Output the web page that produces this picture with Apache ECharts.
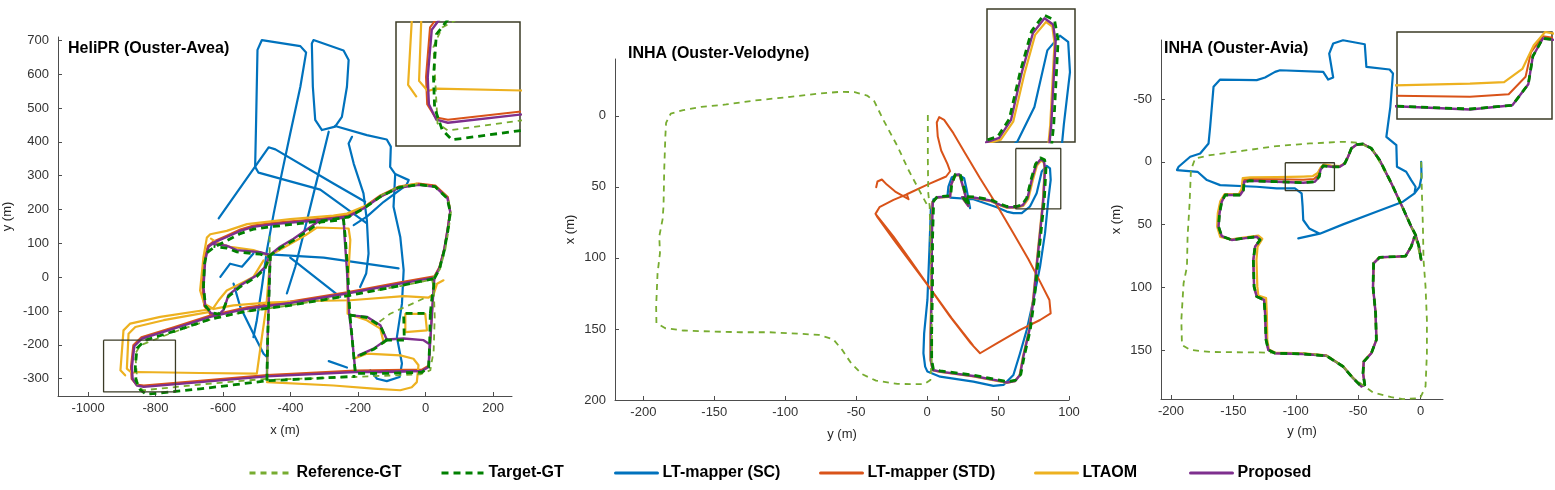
<!DOCTYPE html>
<html>
<head>
<meta charset="utf-8">
<script src="https://cdn.jsdelivr.net/npm/echarts@6/dist/echarts.min.js"></script>
<style>
  html, body { margin: 0; padding: 0; background: #fff; }
  #chart { width: 1555px; height: 490px; }
</style>
</head>
<body>
<div id="chart"></div>
<script>
// ---------- HeliPR (Ouster-Avea) : x / y in metres, each entry is a list of polyline pieces ----------
const heliRefGT = [
  [[-462,121],[-462,65],[-465,-88],[-470,-300],[-668,-317],[-835,-334],[-853,-325],[-860,-226],[-845,-201],[-746,-162],[-638,-125],[-529,-101],[-401,-83],[-233,-54],[-75,-26],[19,-7],[42,23],[58,80],[68,139],[75,193],[66,235],[29,267],[-21,275],[-80,267],[-134,241]],
  [[19,-7],[24,-29],[27,-117],[24,-216],[14,-275],[-16,-287],[-273,-297],[-470,-303]],
  [[-6,-63],[-105,-108],[-144,-137]]
];
const heliTargetGT = [
  [[26,-4],[41,24],[55,78],[66,137],[73,193],[64,233],[28,268],[-21,274],[-80,265],[-134,238],[-184,203],[-228,178],[-312,166],[-371,159],[-450,150],[-510,142],[-549,129],[-589,108],[-628,88],[-648,72],[-655,40],[-658,-29],[-652,-85],[-636,-104],[-613,-109],[-598,-92],[-584,-57],[-549,-28],[-500,2],[-475,27],[-462,63],[-431,86],[-391,109],[-352,135],[-312,163],[-243,170],[-238,119],[-231,21],[-224,-112],[-174,-119],[-134,-144],[-115,-186],[-63,-186],[-65,-107],[14,-107],[12,-200],[9,-267],[-11,-281],[-115,-284],[-208,-284],[-218,-177],[-224,-112]],
  [[-115,-186],[-154,-213],[-199,-233]],
  [[14,-107],[19,-60],[24,-29],[26,-4],[-75,-25],[-233,-55],[-401,-83],[-529,-100],[-638,-124],[-746,-160],[-830,-186],[-855,-210],[-860,-265],[-858,-305],[-845,-333],[-828,-346],[-668,-330],[-470,-306],[-208,-293]],
  [[-470,-306],[-468,-186],[-465,-88],[-462,11],[-460,60],[-490,68],[-559,75],[-589,86],[-628,91]]
];
const heliSC = [
  [[-174,159],[-312,259],[-495,309],[-505,326],[-502,465],[-498,672],[-485,701],[-371,683],[-354,664],[-371,563],[-401,425],[-426,307],[-450,188],[-470,80],[-485,-29],[-500,-127],[-510,-177]],
  [[-332,701],[-243,670],[-228,642],[-233,563],[-248,474],[-268,445],[-307,435],[-327,465],[-334,563],[-337,691],[-332,701]],
  [[-287,430],[-322,287],[-356,149],[-386,31],[-411,-48]],
  [[-268,447],[-174,420],[-115,407],[-103,386],[-105,326],[-90,305],[-50,287],[-57,272],[-124,223],[-174,179],[-213,154]],
  [[-218,415],[-228,395],[-213,336],[-184,248],[-174,169],[-169,70],[-176,11],[-194,-29]],
  [[-90,305],[-95,208],[-75,119],[-65,21],[-70,-78],[-85,-177],[-70,-255],[-77,-295],[-115,-307],[-144,-300],[-164,-275]],
  [[-613,174],[-465,384],[-445,378],[-273,277],[-179,223]],
  [[-500,70],[-302,58],[-80,26]],
  [[-401,58],[-253,-58]],
  [[-608,1],[-579,40],[-544,31],[-510,70]],
  [[-569,-19],[-549,-88],[-510,-167],[-480,-226],[-470,-236]],
  [[-287,-248],[-233,-267]]
];
const heliSTD = [
  [[26,3],[41,30],[55,84],[65,143],[73,197],[66,237],[29,271],[-21,277],[-80,268],[-134,242],[-184,207],[-228,184],[-312,173],[-371,168],[-450,161],[-510,153],[-549,141],[-589,123],[-628,106],[-645,93],[-656,52],[-661,-29],[-656,-85],[-638,-109],[-613,-114],[-638,-113],[-746,-148],[-842,-177],[-866,-201],[-873,-265],[-871,-300],[-857,-317],[-835,-320],[-668,-306],[-470,-289],[-208,-276],[-11,-273],[9,-261],[14,-186],[19,-107],[24,-29],[26,3],[-75,-15],[-233,-44],[-401,-72],[-529,-89],[-638,-113]]
];
const heliLTAOM = [
  [[53,-9],[34,-19],[24,-50],[9,-60],[-65,-56],[-223,-68],[-371,-71],[-470,-75],[-569,-83],[-608,-90],[-628,-94],[-656,-78],[-668,-39],[-658,60],[-648,117],[-638,127],[-589,137],[-529,157],[-401,172],[-273,182],[-233,188],[-174,213],[-124,243],[-75,267],[-26,277]],
  [[-643,-103],[-776,-127],[-860,-147],[-880,-167],[-885,-270],[-870,-283],[-855,-280],[-668,-283],[-500,-285],[-485,-177],[-472,-88],[-464,11],[-460,60],[-480,70],[-510,80],[-579,90],[-618,102],[-636,114]],
  [[-480,50],[-510,1],[-549,-19],[-589,-39],[-613,-68],[-628,-90],[-648,-96],[-786,-117],[-875,-137],[-895,-157],[-904,-275],[-890,-290]],
  [[-460,65],[-356,124],[-322,147],[-228,144],[-223,110],[-231,-29],[-231,-108],[-174,-127],[-134,-152],[-124,-194]],
  [[-60,-108],[-1,-108],[4,-157],[-60,-162],[-60,-108]],
  [[-213,-241],[-174,-226],[-75,-231],[-36,-241],[-21,-260],[-26,-310],[-41,-325],[-75,-334],[-154,-329],[-273,-320],[-470,-310]]
];
const heliProposed = [
  [[26,-1],[41,26],[55,80],[65,139],[73,193],[65,233],[29,267],[-21,273],[-80,264],[-134,238],[-184,203],[-228,180],[-312,169],[-371,164],[-450,157],[-510,149],[-549,137],[-589,119],[-628,102],[-643,90],[-653,50],[-658,-29],[-653,-83],[-636,-106],[-613,-111],[-598,-96],[-584,-53],[-549,-24],[-500,6],[-475,31],[-462,65],[-431,90],[-391,114],[-352,141],[-312,169],[-243,176],[-240,119],[-233,21],[-226,-112],[-174,-117],[-134,-142],[-115,-184],[-154,-211],[-199,-231],[-154,-211],[-115,-184],[-65,-181],[-6,-186],[12,-198],[9,-265],[-11,-277],[-115,-280],[-208,-280],[-218,-177],[-226,-112],[-218,-177],[-208,-280],[-11,-277],[9,-265],[14,-186],[19,-107],[24,-29],[26,-1],[-75,-19],[-233,-48],[-401,-76],[-529,-93],[-638,-117],[-746,-152],[-840,-181],[-863,-204],[-870,-265],[-868,-300],[-855,-320],[-835,-324],[-668,-310],[-470,-293],[-208,-280],[-470,-293],[-468,-186],[-465,-88],[-462,11],[-460,65],[-490,74],[-559,80],[-589,93],[-628,98]]
];

// ---------- INHA (Ouster-Velodyne) : horizontal = y (m), vertical = x (m) ----------
const veloRefGT = [
  [[0.5,-0.5],[0.5,30.8],[0.8,54.3],[1.8,63.8],[2.5,96.6],[3.0,131.8],[3.5,167.1],[2.3,185.9],[-2.0,188.9],[-20.9,188.7],[-36.0,186.4],[-46.1,181.7],[-53.6,174.1],[-59.9,164.7],[-66.2,157.2],[-76.3,154.2],[-96.4,153.0],[-111.5,152.3],[-131.6,152.3],[-151.8,151.8],[-171.9,151.1],[-184.5,149.5],[-190.8,145.9],[-191.0,134.2],[-190.0,110.7],[-188.3,96.6],[-188.8,84.8],[-186.5,73.1],[-185.8,63.7],[-185.3,37.8],[-184.5,14.3],[-184.0,4.9],[-180.7,-1.6],[-171.9,-4.0],[-159.3,-6.3],[-141.7,-8.0],[-121.6,-10.8],[-96.4,-13.4],[-76.3,-15.7],[-61.2,-16.9],[-51.1,-16.7],[-42.3,-14.3],[-37.3,-10.3],[-31.0,2.6],[-20.9,21.4],[-13.3,37.8],[-5.8,51.9],[0.5,63.7]]
];
const veloTargetGT = [
  [[3.8,120],[3.8,87],[4.6,60],[7.2,56.8],[16.6,56.3],[17.3,48.4],[20,41],[23.2,40.8],[25.1,47.2],[28,57.8],[29.6,63.2],[25,56.9],[33,57],[44.8,59],[51.6,62],[56.3,63.8],[63,63.8],[67,62.5],[70.2,57.8],[73.3,44.8],[76.4,34],[79.8,29.6],[82.8,31],[83.8,36.4],[82.6,59],[80.2,82.4],[77.8,106],[75.5,129.4],[72.7,150.6],[68.4,169.4],[66,182],[62.4,186],[56.3,187.2],[53.8,186.6],[32.6,182.5],[9.2,179.5],[4.4,178.4],[3.2,171.6],[3.2,153],[3.8,120]]
];
const veloSC = [
  [[30.3,65.0],[27.9,52.1],[26.1,43.9],[22.1,41.5],[17.4,43.2],[15.0,49.8],[14.3,56.8],[9.2,57.3],[4.5,58.7],[2.6,66.2],[1.6,94.4],[0.2,129.6],[-2.1,153.1],[-2.6,167.1],[-1.4,176.5],[0.2,180.0],[9.2,183.6],[32.6,187.1],[46.7,190.1],[53.8,189.4],[60.8,182.4],[65.5,167.1],[70.2,150.7],[74.9,129.6],[79.6,106.1],[83.1,82.6],[85.4,59.2],[87.1,45.1],[86.6,36.9],[84.3,35.2],[80.8,39.2],[77.2,54.5],[72.5,63.8],[66.7,68.5],[60.8,68.5],[56.1,67.4],[49.1,64.3],[32.6,58.7],[16.2,57.5]]
];
const veloSTD = [
  [[-35.9,50.2],[-35.0,46.2],[-31.9,44.8],[-28.4,48.4],[-22.5,53.3],[-13.1,58.7],[-14.3,55.2],[-0.2,48.6],[13.4,42.7],[16.2,39.0],[14.3,33.8],[9.9,24.4],[7.5,14.6],[6.8,4.7],[8.5,0.9],[12.0,2.8],[18.5,12.2],[26.8,26.3],[37.3,43.9],[49.1,62.7],[60.8,82.6],[71.4,100.9],[79.6,116.7],[86.2,129.6],[87.1,139.0],[79.6,143.7],[65.5,150.7],[49.1,160.1],[37.3,167.1],[30.8,160.1],[16.2,141.3],[2.1,121.4],[-12.0,101.4],[-23.7,85.0],[-32.6,73.7],[-36.4,69.0],[-33.6,64.3],[-23.7,59.2],[-14.8,55.4],[-23.7,59.2],[-33.6,64.3],[-36.4,69.0],[-35.0,71.4],[-23.7,86.9],[-10.8,104.2],[3.3,123.0],[17.4,142.5],[32.2,161.3]]
];
const veloLTAOM = [
  [[3.0,120],[3.0,87],[3.7,60.6],[6.8,57.6],[16.2,57.1],[16.9,49],[19.7,42],[22.8,41.8],[24.6,47.8],[27.5,58.3],[29.1,63.6],[24.6,57.6],[32.6,57.8],[44.4,60],[51.4,63],[56.1,64.6],[63.1,64.6],[67.8,63.4],[71.3,58.5],[74.4,45.6],[77.4,35],[80.4,31.5],[82.2,32.8],[82.8,37.2],[81.6,59.4],[79.3,82.8],[76.9,106.3],[74.6,129.8],[71.8,150.9],[67.5,169.7],[65.2,182.6],[61.8,186.8],[56.1,188],[53.8,187.4],[32.6,183.4],[9.2,180.3],[4,179.2],[2.3,171.8],[2.3,153],[3.0,120]]
];
const veloProposed = [
  [[3.3,120.2],[3.3,87.3],[4.0,60.3],[6.8,57.3],[16.2,56.8],[16.9,48.6],[19.7,41.5],[22.8,41.3],[24.6,47.4],[27.5,58.0],[29.1,63.4],[24.6,57.3],[32.6,57.5],[44.4,59.6],[51.4,62.7],[56.1,64.3],[63.1,64.3],[67.4,62.9],[70.7,58.0],[73.7,45.1],[76.8,34.5],[80.0,30.5],[82.4,32.2],[83.1,36.9],[81.9,59.2],[79.6,82.6],[77.2,106.1],[74.9,129.6],[72.1,150.7],[67.8,169.5],[65.5,182.4],[62.0,186.6],[56.1,187.8],[53.8,187.1],[32.6,183.1],[9.2,180.0],[4.0,178.9],[2.6,171.8],[2.6,153.1],[3.3,120.2]]
];

// ---------- INHA (Ouster-Avia) : horizontal = y (m), vertical = x (m) ----------
const aviaRefGT = [
  [[0.5,0],[1.1,25.2],[1.9,51.7],[2.4,78.2],[4.0,99.5],[5.1,126.0],[5.1,152.5],[4.0,179.0],[-0.3,188.3],[-14.1,189.1],[-23.4,187.5],[-38.1,183.8],[-44.7,179.0],[-54.1,172.4],[-62.1,163.1],[-75.4,154.6],[-94.0,152.5],[-123.3,152.0],[-168.6,151.5],[-184.6,149.9],[-191.2,145.9],[-191.7,126.0],[-189.9,96.8],[-187.2,83.6],[-186.7,59.7],[-185.1,33.2],[-184.0,6.6],[-180.6,-2.7],[-168.6,-5.3],[-141.9,-8.8],[-115.3,-12.5],[-88.7,-14.6],[-62.1,-15.9],[-48.7,-15.1],[-38.1,-9.3],[-24.8,14.6],[-14.1,37.1],[-4.8,57.0],[0.5,78.2]]
];
const aviaTargetGT = [
  [[0.5,78.0],[-1.3,67.4],[-4.0,58.2],[-7.5,51.5],[-14.1,37.0],[-23.4,17.0],[-32.8,-1.4],[-39.4,-10.7],[-46.1,-14.2],[-51.4,-13.6],[-55.4,-10.7],[-58.1,-4.1],[-60.7,1.2],[-64.7,4.0],[-71.4,4.0],[-78.0,3.2],[-80.2,6.6],[-81.2,11.9],[-84.7,15.9],[-94.0,16.6],[-115.3,15.9],[-136.6,15.1],[-141.4,15.9],[-141.9,22.5],[-144.6,26.5],[-156.6,26.5],[-159.3,31.8],[-161.1,41.1],[-161.9,51.7],[-159.3,59.2],[-151.3,62.3],[-141.9,61.0],[-131.3,59.7],[-128.6,62.3],[-132.6,67.6],[-134.0,78.2],[-133.4,99.5],[-131.3,107.4],[-125.4,110.1],[-124.6,120.7],[-123.8,141.9],[-122.0,149.9],[-116.6,152.5],[-94.0,153.1],[-75.4,154.6],[-62.1,163.1],[-54.1,172.4],[-47.4,179.0],[-44.7,177.7],[-46.1,168.4],[-45.5,159.2],[-39.4,152.5],[-35.4,141.9],[-36.0,120.7],[-38.1,99.5],[-37.6,80.9],[-32.8,76.1],[-19.4,75.6],[-12.0,75.1],[-7.5,67.6],[-4.8,59.7]]
];
const aviaSC = [
  [[0.5,0],[0.8,11.9],[-0.8,19.9],[-4.8,25.2],[-14.1,31.8],[-35.4,39.8],[-62.1,49.9],[-80.7,57.3],[-98.0,61.0],[-80.7,57.3],[-89.2,53.1],[-94.0,46.4],[-94.5,35.8],[-95.3,25.2],[-100.7,21.2],[-115.3,21.2],[-131.3,19.9],[-160.6,18.6],[-171.2,14.6],[-178.7,8.0],[-195.2,6.6],[-193.9,4.0],[-184.6,-4.0],[-176.6,-6.6],[-169.9,-14.6],[-168.6,-27.9],[-165.9,-59.7],[-160.6,-65.5],[-131.3,-65.0],[-124.6,-67.1],[-116.6,-71.6],[-112.6,-72.9],[-78.0,-71.6],[-74.0,-65.5],[-70.0,-67.1],[-73.2,-86.2],[-70.0,-94.2],[-62.1,-96.8],[-44.7,-93.6],[-43.4,-75.6],[-24.8,-73.5],[-22.1,-70.3],[-24.2,-43.8],[-27.4,-19.9],[-19.4,-13.3],[-18.9,4.0],[-11.5,8.0],[-7.5,14.6],[-4.0,19.9],[-4.8,25.2]]
];
const aviaSTD = [
  [[0.5,78.2],[-1.3,67.6],[-4.0,58.4],[-7.5,51.7],[-14.1,37.1],[-23.4,17.2],[-32.8,-1.3],[-39.4,-10.6],[-46.1,-14.1],[-51.4,-13.5],[-55.4,-10.6],[-58.1,-4.0],[-60.7,1.3],[-64.7,3.8],[-71.4,3.6],[-78.0,2.8],[-80.6,5.8],[-81.8,10.5],[-85.5,13.8],[-94.0,14.3],[-115.3,14.0],[-136.6,13.8],[-141.8,14.5],[-142.5,22.3],[-144.8,26.2],[-156.8,26.2],[-159.6,31.6],[-161.4,41.1],[-162.2,51.7],[-159.5,59.3],[-151.3,62.3],[-141.9,61.0],[-131.3,59.7],[-128.6,62.3],[-132.6,67.6],[-134.0,78.2],[-133.4,99.5],[-131.3,107.4],[-125.4,110.1],[-124.6,120.7],[-123.8,141.9],[-122.0,149.9],[-116.6,152.5],[-94.0,153.1],[-75.4,154.6],[-62.1,163.1],[-54.1,172.4],[-47.4,179.0],[-44.7,177.7],[-46.1,168.4],[-45.5,159.2],[-39.4,152.5],[-35.4,141.9],[-36.0,120.7],[-38.1,99.5],[-37.6,80.9],[-32.8,76.1],[-19.4,75.6],[-12.0,75.1],[-7.5,67.6],[-4.8,59.7]]
];
const aviaLTAOM = [
  [[0.5,78.2],[-1.3,67.6],[-4.0,58.4],[-7.5,51.7],[-14.1,37.1],[-23.4,17.2],[-32.8,-1.3],[-39.4,-10.6],[-46.1,-14.1],[-51.4,-13.5],[-55.4,-10.6],[-58.1,-4.0],[-60.7,1.3],[-64.7,3.4],[-71.4,3.0],[-77.5,2.0],[-80.0,4.5],[-82.5,9.0],[-86.5,11.5],[-94.0,11.8],[-115.3,12.2],[-136.6,12.5],[-142.5,13.0],[-143.5,22.0],[-145.5,25.5],[-157.0,25.8],[-160.5,31.5],[-162.5,41.0],[-163.0,51.7],[-160.5,59.8],[-151.3,61.8],[-141.9,60.4],[-130.0,58.8],[-126.8,61.5],[-130.6,67.6],[-131.5,78.2],[-130.8,99.5],[-130.0,106.5],[-123.8,108.5],[-123.2,120.7],[-122.8,141.9],[-121.5,149.5],[-116.6,152.0],[-94.0,152.6],[-75.4,154.2],[-62.1,162.8],[-54.1,172.0],[-47.4,178.6],[-44.7,177.3],[-46.1,168.0],[-45.5,159.0],[-39.4,152.2],[-35.4,141.9],[-36.0,120.7],[-38.1,99.5],[-37.6,80.9],[-32.8,76.1],[-19.4,75.6],[-12.0,75.1],[-7.5,67.6],[-4.8,59.7]]
];
const aviaProposed = [
  [[0.5,78.2],[-1.3,67.6],[-4.0,58.4],[-7.5,51.7],[-14.1,37.1],[-23.4,17.2],[-32.8,-1.3],[-39.4,-10.6],[-46.1,-14.1],[-51.4,-13.5],[-55.4,-10.6],[-58.1,-4.0],[-60.7,1.3],[-64.7,4.0],[-71.4,4.0],[-78.0,3.2],[-80.2,6.6],[-81.2,11.9],[-84.7,15.9],[-94.0,16.7],[-115.3,15.9],[-136.6,15.1],[-141.4,15.9],[-141.9,22.5],[-144.6,26.5],[-156.6,26.5],[-159.3,31.8],[-161.1,41.1],[-161.9,51.7],[-159.3,59.2],[-151.3,62.3],[-141.9,61.0],[-131.3,59.7],[-128.6,62.3],[-132.6,67.6],[-134.0,78.2],[-133.4,99.5],[-131.3,107.4],[-125.4,110.1],[-124.6,120.7],[-123.8,141.9],[-122.0,149.9],[-116.6,152.5],[-94.0,153.1],[-75.4,154.6],[-62.1,163.1],[-54.1,172.4],[-47.4,179.0],[-44.7,177.7],[-46.1,168.4],[-45.5,159.2],[-39.4,152.5],[-35.4,141.9],[-36.0,120.7],[-38.1,99.5],[-37.6,80.9],[-32.8,76.1],[-19.4,75.6],[-12.0,75.1],[-7.5,67.6],[-4.8,59.7]]
];

// axis ticks
const heliXTicks = [-1000, -800, -600, -400, -200, 0, 200];
const heliYTicks = [-300, -200, -100, 0, 100, 200, 300, 400, 500, 600, 700];
const veloXTicks = [-200, -150, -100, -50, 0, 50, 100];
const veloYTicks = [0, 50, 100, 150, 200];
const aviaXTicks = [-200, -150, -100, -50, 0];
const aviaYTicks = [-50, 0, 50, 100, 150];

const methodNames = ['Reference-GT', 'Target-GT', 'LT-mapper (SC)', 'LT-mapper (STD)', 'LTAOM', 'Proposed'];

// ---------- layout ----------
const lineStyles = {
  'Reference-GT':    { color: '#77AC30', width: 1.8, type: [6, 5] },
  'Target-GT':       { color: '#008000', width: 2.8, type: [7, 5] },
  'LT-mapper (SC)':  { color: '#0072BD', width: 2.2 },
  'LT-mapper (STD)': { color: '#D95319', width: 2 },
  'LTAOM':           { color: '#EDB120', width: 2.2 },
  'Proposed':        { color: '#7E2F8E', width: 2.4 }
};
const drawOrder = ['LT-mapper (SC)', 'LT-mapper (STD)', 'LTAOM', 'Proposed', 'Reference-GT', 'Target-GT'];

const plots = [
  {
    title: 'HeliPR (Ouster-Avea)', titlePos: [68, 40],
    grid: { left: 58, top: 37, width: 454, height: 359 },
    inset: { left: 396, top: 22, width: 124, height: 124 },
    x: [-1089, 256], y: [-351, 710], inverse: false,
    xTicks: heliXTicks, yTicks: heliYTicks, xName: 'x (m)', yName: 'y (m)', xGap: 28, yGap: 44,
    box: [[-954, -186], [-741, -339]], view: { x: [-925, -710], y: [-354, -194] },
    lines: { 'Reference-GT': heliRefGT, 'Target-GT': heliTargetGT, 'LT-mapper (SC)': heliSC,
             'LT-mapper (STD)': heliSTD, 'LTAOM': heliLTAOM, 'Proposed': heliProposed }
  },
  {
    title: 'INHA (Ouster-Velodyne)', titlePos: [628, 45],
    grid: { left: 615, top: 59, width: 454, height: 341 },
    inset: { left: 987, top: 9, width: 88, height: 133 },
    x: [-220, 100], y: [-40, 200], inverse: true,
    xTicks: veloXTicks, yTicks: veloYTicks, xName: 'y (m)', yName: 'x (m)', xGap: 28, yGap: 38,
    box: [[62.5, 23], [94.2, 65.5]], view: { x: [64, 88.5], y: [28, 64] },
    lines: { 'Reference-GT': veloRefGT, 'Target-GT': veloTargetGT, 'LT-mapper (SC)': veloSC,
             'LT-mapper (STD)': veloSTD, 'LTAOM': veloLTAOM, 'Proposed': veloProposed }
  },
  {
    title: 'INHA (Ouster-Avia)', titlePos: [1164, 40],
    grid: { left: 1161, top: 40, width: 282, height: 359 },
    inset: { left: 1397, top: 32, width: 155, height: 87 },
    x: [-208, 18], y: [-97, 189], inverse: true,
    xTicks: aviaXTicks, yTicks: aviaYTicks, xName: 'y (m)', yName: 'x (m)', xGap: 26, yGap: 38,
    box: [[-108.4, 0.8], [-69, 23]], view: { x: [-110, -76], y: [2, 18.5] },
    lines: { 'Reference-GT': aviaRefGT, 'Target-GT': aviaTargetGT, 'LT-mapper (SC)': aviaSC,
             'LT-mapper (STD)': aviaSTD, 'LTAOM': aviaLTAOM, 'Proposed': aviaProposed }
  }
];

const FONT = 'Liberation Sans, Arial, Helvetica, sans-serif';
const AXIS_COLOR = '#4d4d4d';
const FRAME_COLOR = '#3b3b26';
const plain = function (v) { return String(v); };

let grids = [], xAxes = [], yAxes = [], series = [], titles = [];

plots.forEach(function (p, i) {
  grids.push(Object.assign({ containLabel: false }, p.grid));
  xAxes.push({
    gridIndex: i, type: 'value', min: p.x[0], max: p.x[1],
    name: p.xName, nameLocation: 'middle', nameGap: p.xGap,
    nameTextStyle: { fontSize: 13, color: '#262626', fontFamily: FONT },
    axisLine: { show: true, onZero: false, lineStyle: { color: AXIS_COLOR, width: 1 } },
    axisTick: { show: true, inside: true, length: 4, customValues: p.xTicks, lineStyle: { color: AXIS_COLOR } },
    axisLabel: { customValues: p.xTicks, formatter: plain, fontSize: 13, color: '#333', fontFamily: FONT, margin: 6 },
    splitLine: { show: false }
  });
  yAxes.push({
    gridIndex: i, type: 'value', min: p.y[0], max: p.y[1], inverse: p.inverse,
    name: p.yName, nameLocation: 'middle', nameGap: p.yGap, nameRotate: 90,
    nameTextStyle: { fontSize: 13, color: '#262626', fontFamily: FONT },
    axisLine: { show: true, onZero: false, lineStyle: { color: AXIS_COLOR, width: 1 } },
    axisTick: { show: true, inside: true, length: 4, customValues: p.yTicks, lineStyle: { color: AXIS_COLOR } },
    axisLabel: { customValues: p.yTicks, formatter: plain, fontSize: 13, color: '#333', fontFamily: FONT, margin: 9 },
    splitLine: { show: false }
  });
  titles.push({
    text: p.title, left: p.titlePos[0], top: p.titlePos[1], padding: 0,
    textStyle: { fontSize: 16, fontWeight: 'bold', color: '#000', fontFamily: FONT, lineHeight: 18 }
  });
});

// inset grids (indices 3..5)
plots.forEach(function (p, i) {
  const gi = 3 + i;
  grids.push(Object.assign({ show: true, borderColor: FRAME_COLOR, borderWidth: 1.5, backgroundColor: '#fff' }, p.inset));
  xAxes.push({ gridIndex: gi, type: 'value', min: p.view.x[0], max: p.view.x[1], show: false, splitLine: { show: false } });
  yAxes.push({ gridIndex: gi, type: 'value', min: p.view.y[0], max: p.view.y[1], inverse: p.inverse, show: false, splitLine: { show: false } });
});

plots.forEach(function (p, i) {
  drawOrder.forEach(function (name) {
    const st = lineStyles[name];
    p.lines[name].forEach(function (piece) {
      [i, 3 + i].forEach(function (gi) {
        series.push({
          name: name, type: 'line', xAxisIndex: gi, yAxisIndex: gi,
          data: piece, symbol: 'none', silent: true, clip: true, animation: false,
          itemStyle: { color: st.color },
          lineStyle: { color: st.color, width: st.width, type: st.type || 'solid',
                       cap: st.type ? 'butt' : 'round', join: 'round' }
        });
      });
    });
  });
  // zoom-region frame in the main axes
  const b = p.box;
  series.push({
    type: 'line', xAxisIndex: i, yAxisIndex: i, symbol: 'none', silent: true, animation: false,
    data: [[b[0][0], b[0][1]], [b[1][0], b[0][1]], [b[1][0], b[1][1]], [b[0][0], b[1][1]], [b[0][0], b[0][1]]],
    lineStyle: { color: FRAME_COLOR, width: 1.3 }, z: 5
  });
});

const legendLeft = [248, 440, 614, 819, 1034, 1189];
const legends = methodNames.map(function (n, k) {
  return {
    data: [n], left: legendLeft[k], top: 465, padding: 0, selectedMode: false,
    itemWidth: 42, itemHeight: 14, itemGap: 0,
    itemStyle: { opacity: 0 },
    lineStyle: { width: 3 },
    textStyle: { fontSize: 16, fontWeight: 'bold', color: '#000', fontFamily: FONT }
  };
});

const chart = echarts.init(document.getElementById('chart'), null, { renderer: 'canvas' });
chart.setOption({
  animation: false,
  backgroundColor: '#fff',
  title: titles,
  legend: legends,
  grid: grids,
  xAxis: xAxes,
  yAxis: yAxes,
  series: series
});
</script>
</body>
</html>
